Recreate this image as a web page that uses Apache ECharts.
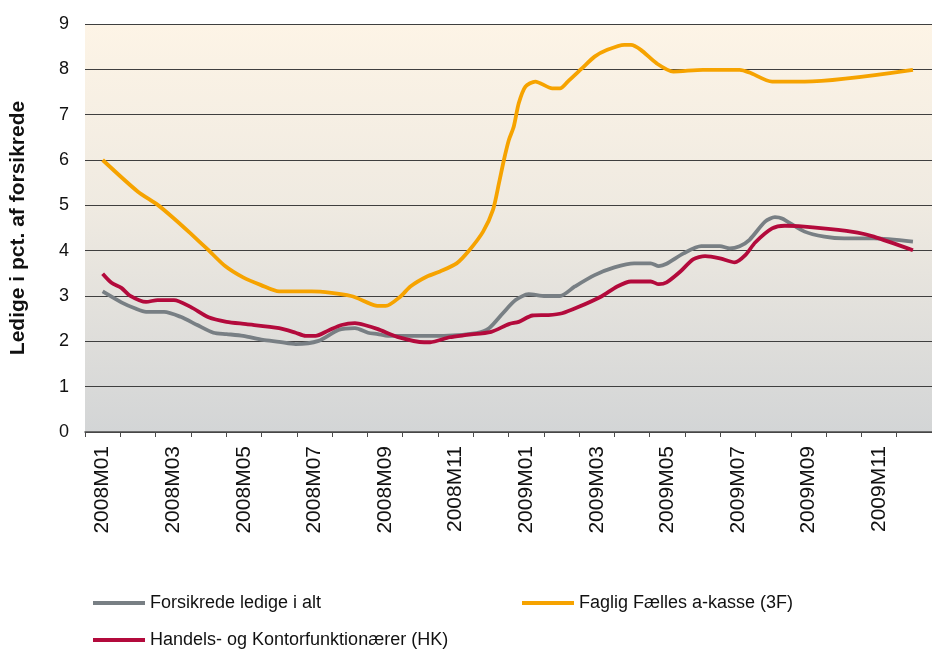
<!DOCTYPE html>
<html>
<head>
<meta charset="utf-8">
<script src="https://cdn.jsdelivr.net/npm/echarts@6/dist/echarts.min.js"></script>
<style>
html,body{margin:0;padding:0;background:#fff;}
#chart{width:932px;height:650px;}
</style>
</head>
<body>
<div id="chart"></div>
<script>
// Month categories (tick labels)
const months = ['2008M01','2008M02','2008M03','2008M04','2008M05','2008M06','2008M07','2008M08','2008M09','2008M10','2008M11','2008M12',
                '2009M01','2009M02','2009M03','2009M04','2009M05','2009M06','2009M07','2009M08','2009M09','2009M10','2009M11','2009M12'];
const yTicks = [0,1,2,3,4,5,6,7,8,9];

const seriesNames = ['Forsikrede ledige i alt','Faglig Fælles a-kasse (3F)','Handels- og Kontorfunktionærer (HK)'];

// Time positions (0 = 2008M01, 1 = 2008M02, ...) and values
const totalT = [0.0,0.53,0.91,1.23,1.74,2.21,2.68,3.14,3.51,3.98,4.54,5.00,5.47,6.12,6.68,7.15,7.52,7.80,8.08,8.72,9.67,10.59,10.95,11.34,11.70,12.07,12.54,12.96,13.38,13.94,14.50,15.06,15.53,15.76,15.98,16.46,16.96,17.49,17.77,18.05,18.33,18.77,19.05,19.25,19.89,20.45,21.01,21.85,22.96];
const totalV = [3.10,2.86,2.73,2.65,2.65,2.54,2.36,2.19,2.16,2.12,2.03,1.99,1.94,2.01,2.25,2.29,2.19,2.16,2.12,2.12,2.12,2.18,2.29,2.62,2.91,3.04,3.00,3.00,3.21,3.46,3.63,3.72,3.72,3.66,3.71,3.94,4.10,4.10,4.05,4.10,4.24,4.64,4.74,4.71,4.42,4.31,4.27,4.27,4.20];

const fT = [0.0,1.00,1.56,2.02,2.49,3.00,3.47,3.98,4.49,5.00,5.92,7.04,7.74,8.02,8.44,8.72,9.19,9.56,10.03,10.39,10.78,11.06,11.23,11.37,11.51,11.65,11.79,11.98,12.26,12.74,12.96,13.18,13.58,13.94,14.30,14.78,14.97,15.25,15.70,16.17,17.01,18.05,18.33,18.97,19.89,22.96];
const fV = [6.00,5.30,5.01,4.71,4.38,4.01,3.66,3.41,3.24,3.10,3.10,3.00,2.79,2.78,2.99,3.21,3.43,3.54,3.72,4.01,4.42,4.90,5.49,6.00,6.44,6.74,7.25,7.62,7.73,7.58,7.58,7.73,8.02,8.28,8.43,8.54,8.54,8.43,8.13,7.95,7.99,7.99,7.93,7.73,7.73,7.99];

const hkT = [0.0,0.25,0.53,0.77,1.23,1.56,2.02,2.49,3.00,3.51,4.07,5.00,5.47,5.75,6.03,6.40,6.77,7.15,7.42,7.80,8.35,9.11,9.28,9.83,10.31,11.01,11.51,11.79,12.18,12.63,13.02,13.46,14.13,14.58,14.97,15.53,15.76,15.98,16.37,16.73,17.07,17.49,17.91,18.21,18.49,18.97,19.33,19.72,20.56,21.39,21.85,22.96];
const hkV = [3.49,3.29,3.18,3.01,2.87,2.91,2.91,2.76,2.53,2.43,2.38,2.29,2.19,2.12,2.12,2.24,2.36,2.40,2.36,2.27,2.10,1.98,1.98,2.09,2.14,2.21,2.38,2.43,2.57,2.58,2.62,2.75,2.99,3.21,3.32,3.32,3.26,3.30,3.54,3.81,3.88,3.83,3.74,3.90,4.18,4.49,4.55,4.54,4.48,4.40,4.31,4.01];

const colors = ['#787F84','#F6A300','#B30A3C'];
const FONT = '"Liberation Sans", Arial, sans-serif';

function pairs(t, v){ return t.map((x,i)=>[x, v[i]]); }

const chart = echarts.init(document.getElementById('chart'), null, {renderer:'canvas'});

const grid = {left:83, top:24, width:859, height:408, show:true, borderWidth:0,
  backgroundColor: new echarts.graphic.LinearGradient(0,0,0,1,[
    {offset:0, color:'#FDF4E6'},
    {offset:0.45, color:'#EFEAE1'},
    {offset:1, color:'#D3D5D6'}
  ])};

function legendFor(i, left, top){
  return {
    data:[seriesNames[i]], left:left, top:top, icon:'rect', itemWidth:52, itemHeight:4,
    textStyle:{fontFamily:FONT, fontSize:18, color:'#111'}, selectedMode:false
  };
}

const option = {
  animation:false,
  color: colors,
  grid: grid,
  legend: [legendFor(0, 88, 589), legendFor(1, 517, 589), legendFor(2, 88, 626)],
  xAxis: [
    {
      type:'category', data: months, boundaryGap:true, position:'bottom',
      axisLine:{show:true, lineStyle:{color:'#4a4a4a', width:1.5}},
      axisTick:{show:true, interval:0, length:5, lineStyle:{color:'#4a4a4a', width:1}},
      axisLabel:{interval:1, rotate:90, margin:14, fontFamily:FONT, fontSize:21, color:'#111'},
      splitLine:{show:false}
    },
    {
      type:'value', min:-0.5, max:23.5, show:false
    }
  ],
  yAxis: {
    type:'value', min:yTicks[0], max:yTicks[yTicks.length-1], interval:1,
    name:'Ledige i pct. af forsikrede', nameLocation:'middle', nameGap:56,
    nameTextStyle:{fontFamily:FONT, fontSize:21, fontWeight:'bold', color:'#111'},
    axisLine:{show:false}, axisTick:{show:false},
    axisLabel:{margin:16, fontFamily:FONT, fontSize:18, color:'#111'},
    splitLine:{show:true, lineStyle:{color:'#3f3f3f', width:1.2}}
  },
  series: [
    {name:seriesNames[0], type:'line', xAxisIndex:1, data:pairs(totalT,totalV), showSymbol:false, smooth:0.25,
     lineStyle:{width:3.8, color:colors[0]}, itemStyle:{color:colors[0]}, z:3},
    {name:seriesNames[1], type:'line', xAxisIndex:1, data:pairs(fT,fV), showSymbol:false, smooth:0.25,
     lineStyle:{width:3.8, color:colors[1]}, itemStyle:{color:colors[1]}, z:4},
    {name:seriesNames[2], type:'line', xAxisIndex:1, data:pairs(hkT,hkV), showSymbol:false, smooth:0.25,
     lineStyle:{width:3.8, color:colors[2]}, itemStyle:{color:colors[2]}, z:5}
  ]
};
chart.setOption(option);
</script>
</body>
</html>
